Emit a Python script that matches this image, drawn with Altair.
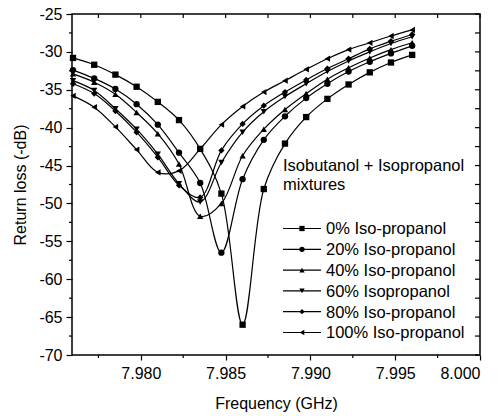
import altair as alt
import pandas as pd

# ---------------- data ----------------
freq = [7.97600, 7.97725, 7.97850, 7.97975, 7.98100, 7.98225, 7.98350, 7.98475,
        7.98600, 7.98725, 7.98850, 7.98975, 7.99100, 7.99225, 7.99350, 7.99475, 7.99600]

s0 = [-30.8, -31.7, -33.0, -34.6, -36.6, -39.0, -42.8, -48.7, -66.0, -48.1, -42.1, -38.6, -36.2, -34.3, -32.7, -31.4, -30.4]
s20 = [-32.4, -33.5, -34.9, -36.9, -39.6, -43.3, -47.3, -56.5, -46.8, -41.6, -38.5, -36.1, -34.2, -32.6, -31.3, -30.2, -29.2]
s40 = [-32.9, -34.0, -35.6, -38.0, -40.8, -44.8, -51.7, -50.0, -43.7, -40.2, -37.6, -35.5, -33.6, -32.1, -30.8, -29.7, -28.8]
s60 = [-33.8, -35.1, -37.5, -40.2, -43.5, -47.4, -49.8, -44.6, -40.6, -37.9, -35.9, -34.2, -32.6, -31.2, -30.0, -28.9, -28.0]
s80 = [-34.2, -35.5, -37.8, -40.6, -43.9, -47.6, -49.2, -43.0, -39.5, -37.1, -35.3, -33.7, -32.2, -30.9, -29.6, -28.6, -27.7]
s100 = [-35.8, -37.3, -39.9, -42.9, -45.9, -45.7, -42.8, -39.6, -37.2, -35.3, -33.8, -32.3, -30.9, -29.7, -28.8, -27.9, -27.1]

labels = ["0% Iso-propanol", "20% Iso-propanol", "40% Iso-propanol",
          "60% Isopropanol", "80% Iso-propanol", "100% Iso-propanol"]
shapes = ["square", "circle", "triangle-up", "triangle-down", "diamond", "triangle-left"]
series_vals = [s0, s20, s40, s60, s80, s100]

x_major = [7.980, 7.985, 7.990, 7.995, 8.000]
x_minor = [7.9775, 7.9825, 7.9875, 7.9925, 7.9975]
y_major = [-25, -30, -35, -40, -45, -50, -55, -60, -65, -70]
y_minor = [-27.5, -32.5, -37.5, -42.5, -47.5, -52.5, -57.5, -62.5, -67.5]

title_lines = ["Isobutanol + Isopropanol", "mixtures"]

# ---------------- layout ----------------
W, H = 408, 341
FONT = "Liberation Sans"
XDOM = [7.97594, 8.000]
YDOM = [-70, -25]

rows = []
for lab, vals in zip(labels, series_vals):
    for i, (f, v) in enumerate(zip(freq, vals)):
        rows.append({"series": lab, "idx": i, "f": f, "db": v})
df = pd.DataFrame(rows)

xs = alt.Scale(domain=XDOM, nice=False, zero=False)
ys = alt.Scale(domain=YDOM, nice=False, zero=False)

x_axis = alt.Axis(values=x_major, format=".3f", tickSize=5, tickColor="black", tickWidth=1.2,
                  domain=False, grid=False, labelFont=FONT, labelFontSize=16, labelColor="black",
                  labelPadding=5.5, labelOverlap=False, title="Frequency (GHz)", titleFont=FONT,
                  titleFontSize=16, titleFontWeight="normal", titleColor="black",
                  titleBaseline="alphabetic", titleY=53)
y_axis = alt.Axis(values=y_major, tickSize=6, tickColor="black", tickWidth=1.2,
                  labelExpr="toString(datum.value)", labelOverlap=False,
                  domain=False, grid=False, labelFont=FONT, labelFontSize=16, labelColor="black",
                  labelPadding=4, title="Return loss (-dB)", titleFont=FONT, titleFontSize=16,
                  titleFontWeight="normal", titleColor="black", titleAngle=270, titleX=-52,
                  titleY=H / 2, titleAlign="center", titleBaseline="middle")


def X():
    return alt.X("f:Q", scale=xs, axis=x_axis)


def Y():
    return alt.Y("db:Q", scale=ys, axis=y_axis)


lines = alt.Chart(df).mark_line(color="black", strokeWidth=1.2, interpolate="catmull-rom", clip=True).encode(
    x=X(), y=Y(), detail="series:N", order="idx:Q",
)
points = alt.Chart(df).mark_point(filled=True, color="black", opacity=1, size=40).encode(
    x=X(), y=Y(),
    shape=alt.Shape("series:N", scale=alt.Scale(domain=labels, range=shapes), legend=None),
)

xmin_df = pd.DataFrame({"f": x_minor})
xall_df = pd.DataFrame({"f": x_major + x_minor})
ymin_df = pd.DataFrame({"db": y_minor})
yall_df = pd.DataFrame({"db": y_major + y_minor})

tick_style = dict(color="black", strokeWidth=1.2, clip=False)
bottom_minor = alt.Chart(xmin_df).mark_rule(**tick_style).encode(
    x=X(), y=alt.value(H), y2=alt.value(H + 3))
top_ticks = alt.Chart(xall_df).mark_rule(**tick_style).encode(
    x=X(), y=alt.value(0), y2=alt.value(4))
left_minor = alt.Chart(ymin_df).mark_rule(**tick_style).encode(
    y=Y(), x=alt.value(-3), x2=alt.value(0))
right_ticks = alt.Chart(yall_df).mark_rule(**tick_style).encode(
    y=Y(), x=alt.value(W - 5), x2=alt.value(W))

# legend drawn by hand
leg_y = [214.5, 235.3, 256.1, 276.9, 297.7, 318.5]
leg_layers = []
for lab, shp, yy in zip(labels, shapes, leg_y):
    d = pd.DataFrame({"t": [lab]})
    leg_layers.append(alt.Chart(d).mark_rule(color="black", strokeWidth=1.2).encode(
        x=alt.value(211), x2=alt.value(249), y=alt.value(yy)))
    leg_layers.append(alt.Chart(d).mark_point(filled=True, color="black", opacity=1,
                                              size=28, shape=shp).encode(
        x=alt.value(230), y=alt.value(yy)))
    leg_layers.append(alt.Chart(d).mark_text(font=FONT, fontSize=16.5, color="black",
                                             align="left", baseline="alphabetic").encode(
        text="t:N", x=alt.value(254), y=alt.value(yy + 5.8)))

title_layers = []
for t, yy in zip(title_lines, [156.7, 176.3]):
    title_layers.append(alt.Chart(pd.DataFrame({"t": [t]})).mark_text(
        font=FONT, fontSize=16.5, color="black", align="left", baseline="alphabetic").encode(
        text="t:N", x=alt.value(211), y=alt.value(yy)))

chart = alt.layer(
    lines, points, bottom_minor, top_ticks, left_minor, right_ticks,
    *leg_layers, *title_layers
).properties(
    width=W, height=H,
    autosize=alt.AutoSizeParams(type="none"),
    padding={"left": 72, "top": 14, "right": 20, "bottom": 61},
    background="white",
).configure_view(stroke="black", strokeWidth=1.5)

chart.save("out.html", embed_options={"renderer": "svg", "actions": False})
